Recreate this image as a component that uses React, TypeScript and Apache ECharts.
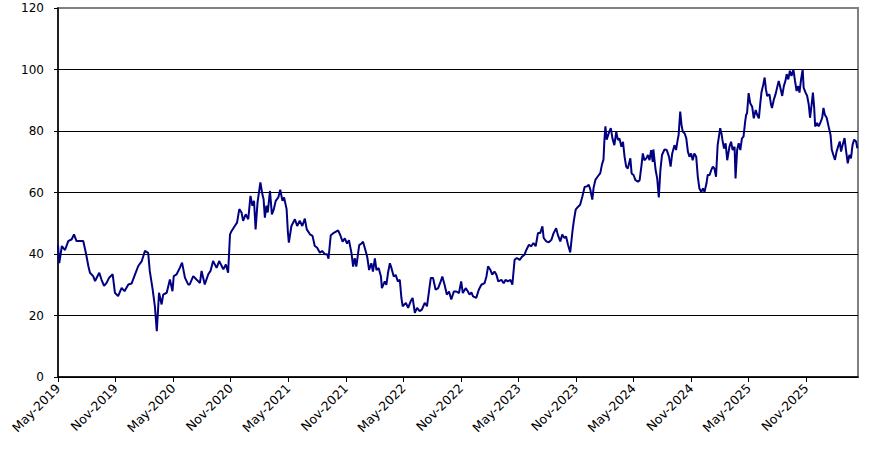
import React, { useEffect, useRef } from "react";
import * as echarts from "echarts";

const dates: string[] = [
  "2019-05-01","2019-05-05","2019-05-13","2019-05-23","2019-06-03","2019-06-14","2019-06-21","2019-06-29",
  "2019-07-10","2019-07-20","2019-07-29","2019-08-06","2019-08-11","2019-08-21","2019-08-27","2019-09-10",
  "2019-09-17","2019-09-25","2019-10-03","2019-10-11","2019-10-22","2019-10-29","2019-11-09","2019-11-20",
  "2019-11-29","2019-12-11","2019-12-21",
  "2020-01-02","2020-01-12","2020-01-23","2020-02-03","2020-02-13","2020-02-18","2020-02-27","2020-03-04",
  "2020-03-10","2020-03-17","2020-03-25","2020-03-30","2020-04-11","2020-04-21","2020-04-29","2020-05-03",
  "2020-05-12","2020-05-22","2020-05-29","2020-06-08","2020-06-18","2020-06-23","2020-07-04","2020-07-14",
  "2020-07-25","2020-07-30","2020-08-10","2020-08-21","2020-08-28","2020-09-06","2020-09-17","2020-09-25",
  "2020-10-03","2020-10-08","2020-10-16","2020-10-23","2020-10-29","2020-11-04","2020-11-14","2020-11-21",
  "2020-11-28","2020-12-05","2020-12-10","2020-12-18","2020-12-26",
  "2021-01-03","2021-01-09","2021-01-14","2021-01-19","2021-01-25","2021-02-04","2021-02-10","2021-02-14",
  "2021-02-18","2021-02-23","2021-02-27","2021-03-04","2021-03-10","2021-03-16","2021-03-22","2021-03-30",
  "2021-04-06","2021-04-13","2021-04-18","2021-04-26","2021-04-30","2021-05-03","2021-05-11","2021-05-22",
  "2021-05-29","2021-06-07","2021-06-15","2021-06-23","2021-06-29","2021-07-09","2021-07-17","2021-07-24",
  "2021-08-01","2021-08-10","2021-08-17","2021-08-26","2021-09-03","2021-09-07","2021-09-14","2021-09-21",
  "2021-09-29","2021-10-07","2021-10-14","2021-10-21","2021-10-28","2021-11-05","2021-11-11","2021-11-19",
  "2021-11-24","2021-11-29","2021-12-04","2021-12-13","2021-12-20","2021-12-25",
  "2022-01-01","2022-01-08","2022-01-14","2022-01-21","2022-01-26","2022-02-02","2022-02-07","2022-02-14",
  "2022-02-21","2022-02-24","2022-03-03","2022-03-08","2022-03-13","2022-03-19","2022-03-24","2022-04-01",
  "2022-04-07","2022-04-14","2022-04-20","2022-04-25","2022-04-29","2022-05-09","2022-05-16","2022-05-24",
  "2022-05-30","2022-06-07","2022-06-14","2022-06-22","2022-06-29","2022-07-08","2022-07-15","2022-07-22",
  "2022-07-27","2022-08-04","2022-08-12","2022-08-20","2022-08-28","2022-09-03","2022-09-10","2022-09-17",
  "2022-09-24","2022-10-01","2022-10-09","2022-10-17","2022-10-25","2022-11-02","2022-11-07","2022-11-16",
  "2022-11-23","2022-11-28","2022-12-04","2022-12-09","2022-12-19","2022-12-27",
  "2023-01-05","2023-01-15","2023-01-21","2023-01-26","2023-02-03","2023-02-09","2023-02-16","2023-02-22",
  "2023-02-28","2023-03-08","2023-03-15","2023-03-21","2023-03-28","2023-04-06","2023-04-12","2023-04-19",
  "2023-04-26","2023-05-05","2023-05-13","2023-05-20","2023-05-26","2023-06-04","2023-06-11","2023-06-18",
  "2023-06-25","2023-07-02","2023-07-09","2023-07-16","2023-07-20","2023-07-28","2023-08-06","2023-08-14",
  "2023-08-21","2023-08-29","2023-09-04","2023-09-12","2023-09-18","2023-09-25","2023-09-30","2023-10-06",
  "2023-10-13","2023-10-20","2023-10-24","2023-10-30","2023-11-07","2023-11-14","2023-11-21","2023-11-28",
  "2023-12-05","2023-12-11","2023-12-16","2023-12-22","2023-12-26",
  "2024-01-02","2024-01-09","2024-01-17","2024-01-22","2024-01-27","2024-01-30","2024-02-03","2024-02-07",
  "2024-02-15","2024-02-20","2024-02-25","2024-03-01","2024-03-07","2024-03-12","2024-03-17","2024-03-23",
  "2024-03-28","2024-04-03","2024-04-08","2024-04-13","2024-04-21","2024-04-25","2024-05-01","2024-05-07",
  "2024-05-15","2024-05-20","2024-05-26","2024-05-30","2024-06-05","2024-06-11","2024-06-16","2024-06-21",
  "2024-06-26","2024-07-01","2024-07-03","2024-07-10","2024-07-15","2024-07-20","2024-07-25","2024-07-30",
  "2024-08-08","2024-08-15","2024-08-22","2024-08-27","2024-09-02","2024-09-09","2024-09-14","2024-09-19",
  "2024-09-22","2024-09-27","2024-10-01","2024-10-05","2024-10-11","2024-10-16","2024-10-21","2024-10-26",
  "2024-11-01","2024-11-06","2024-11-11","2024-11-17","2024-11-22","2024-11-27","2024-12-03","2024-12-08",
  "2024-12-13","2024-12-19","2024-12-23","2024-12-29",
  "2025-01-04","2025-01-09","2025-01-14","2025-01-19","2025-01-24","2025-02-02","2025-02-06","2025-02-09",
  "2025-02-14","2025-02-19","2025-02-24","2025-03-01","2025-03-06","2025-03-11","2025-03-17","2025-03-20",
  "2025-03-25","2025-03-30","2025-04-05","2025-04-10","2025-04-15","2025-04-20","2025-04-23","2025-04-26",
  "2025-05-01","2025-05-06","2025-05-12","2025-05-17","2025-05-23","2025-05-28","2025-06-03","2025-06-07",
  "2025-06-11","2025-06-17","2025-06-21","2025-06-25","2025-06-29","2025-07-06","2025-07-11","2025-07-14",
  "2025-07-20","2025-07-25","2025-07-30","2025-08-05","2025-08-09","2025-08-16","2025-08-21","2025-08-26",
  "2025-08-30","2025-09-05","2025-09-10","2025-09-15","2025-09-21","2025-09-26","2025-10-01","2025-10-06",
  "2025-10-10","2025-10-15","2025-10-20","2025-10-23","2025-10-29","2025-11-04","2025-11-09","2025-11-13",
  "2025-11-18","2025-11-22","2025-11-26","2025-11-29","2025-12-05","2025-12-10","2025-12-15","2025-12-21",
  "2025-12-25","2025-12-29",
  "2026-01-05","2026-01-11","2026-01-17","2026-01-21","2026-01-26","2026-02-01","2026-02-06","2026-02-11",
  "2026-02-16","2026-02-20","2026-02-25","2026-03-01","2026-03-06","2026-03-11","2026-03-16","2026-03-21",
  "2026-03-26","2026-04-01","2026-04-07","2026-04-11",
];

const values: number[] = [
  43,37,42.6,41.3,44.2,44.8,46.4,44.2,
  44.2,44.2,39.9,36,33.9,32.8,31.2,33.9,
  31.7,29.6,30.6,32.3,33.4,27.4,26.3,29.0,
  27.9,30.1,30.4,
  33.4,36.1,37.7,41.0,40.4,34.5,28.5,23.0,
  14.9,27.4,23.6,26.8,27.4,31.7,27.9,32.8,
  33.4,35.5,37.2,32.3,30.1,30.1,32.8,31.7,
  30.6,34.5,30.1,33.4,34.5,37.7,35.5,37.7,
  36.1,35.0,36.6,33.9,46.4,47.5,49.1,50.2,
  54.6,53.5,50.8,52.9,51.3,
  58.9,55.7,57.3,48.0,56.7,63.3,59.5,57.8,
  51.8,55.7,53.5,60.5,52.9,54.6,57.3,58.4,
  60.9,57.3,58.4,54.6,47.0,43.7,49.1,51.3,
  49.1,50.8,49.1,51.5,48.0,46.4,45.9,42.6,
  42.1,40.4,41.0,39.9,39.9,38.5,46.1,46.7,
  47.2,47.7,46.1,44.0,45.1,43.4,44.5,40.2,
  35.9,38.6,35.9,42.9,43.4,44.0,
  41.8,39.1,34.8,37.0,34.3,38.6,34.8,35.4,
  32.7,28.9,31.1,30.0,33.8,37.0,35.4,32.7,
  33.2,31.1,31.6,25.7,23.0,24.1,22.5,24.6,
  25.7,20.9,22.5,21.4,21.9,24.1,23.0,28.4,
  32.2,32.2,28.4,28.9,31.1,32.7,30.0,26.8,
  27.8,25.2,27.8,27.8,27.3,31.1,27.3,28.9,
  27.8,26.8,27.5,26.2,25.7,28.4,
  30.0,30.5,32.7,36.0,34.9,33.3,34.3,33.3,
  31.1,31.6,30.5,31.6,31.1,31.6,30.0,38.1,
  38.7,38.1,39.2,39.8,41.4,43.0,42.5,43.6,
  42.5,46.8,46.8,49.0,45.2,44.1,43.8,44.6,
  46.8,48.4,46.3,44.1,46.3,45.2,45.7,43.0,
  40.5,47.4,50.6,54.4,55.3,56.0,58.7,61.8,
  62.0,62.5,60.9,57.7,61.5,
  64.2,65.2,66.3,69.0,70.7,77.2,81.5,77.2,
  79.8,80.9,77.6,75.4,79.8,77.1,77.6,74.9,
  76.5,71.6,68.4,67.8,71.1,66.2,65.7,64.0,
  63.5,64.0,68.9,72.7,70.5,71.1,72.2,70.5,
  73.8,70.0,74.0,67.3,64.6,58.4,67.3,72.2,
  74.0,73.8,71.6,68.4,72.7,75.4,73.8,77.1,
  78.7,86.3,82.0,79.8,79.2,77.6,73.3,71.6,
  72.7,70.5,72.7,71.6,65.1,61.3,60.2,61.3,
  60.2,62.9,65.7,65.7,
  67.3,68.4,67.8,65.1,75.4,80.9,79.2,77.1,
  74.3,76.0,70.5,74.9,76.5,73.8,74.9,64.6,
  73.8,76.0,73.8,77.6,78.2,83.0,85.2,85.8,
  92.3,89.0,87.9,84.1,86.8,85.2,84.1,88.6,
  92.5,95.2,97.4,93.6,91.4,91.9,88.6,87.5,
  90.3,91.9,94.1,96.3,94.6,91.4,94.6,96.3,
  98.5,96.8,99.6,97.9,100,96.3,93.0,94.6,
  92.5,96.8,100,94.1,92.5,91.4,88.6,84.3,
  88.6,92.5,87.5,81.5,82.6,81.5,82.6,84.3,
  87.5,85.4,
  84.3,81.5,78.8,73.9,72.2,70.6,73.3,75.0,
  76.6,73.3,75.5,77.7,73.3,69.5,72.2,71.1,
  75.5,77.2,76.6,74.4,
];

const monthNames = ["Jan","Feb","Mar","Apr","May","Jun","Jul","Aug","Sep","Oct","Nov","Dec"];
const xTickMonths = [0, 6, 12, 18, 24, 30, 36, 42, 48, 54, 60, 66, 72, 78];
const yTicks = [0, 20, 40, 60, 80, 100, 120];

// months elapsed since 1 May 2019
function toMonths(d: string): number {
  const [y, m, day] = d.split("-").map(Number);
  return (y - 2019) * 12 + (m - 5) + (day - 1) / 30;
}

function monthLabel(v: number): string {
  const abs = 4 + Math.round(v);
  const year = 2019 + Math.floor(abs / 12);
  return monthNames[abs % 12] + "-" + year;
}

export default function App() {
  const ref = useRef<HTMLDivElement>(null);
  useEffect(() => {
    document.body.style.margin = "0";
    if (!ref.current) return;
    const chart = echarts.init(ref.current, undefined, { renderer: "svg" });
    const seriesData = dates.map((d, i) => [toMonths(d), values[i]]);
    const font = "DejaVu Sans";
    chart.setOption({
      animation: false,
      backgroundColor: "#ffffff",
      grid: {
        left: 58,
        right: 25,
        top: 8,
        bottom: 72,
        show: true,
        borderColor: "#808080",
        borderWidth: 2,
        backgroundColor: "transparent",
      },
      xAxis: {
        type: "value",
        min: 0,
        max: 83.4,
        interval: 6,
        axisLine: { show: true, onZero: false, lineStyle: { color: "#000", width: 1.5 } },
        axisTick: { show: true, length: 5, inside: false, customValues: xTickMonths, lineStyle: { color: "#000", width: 1 } },
        axisLabel: {
          customValues: xTickMonths,
          rotate: 45,
          margin: 9,
          color: "#000",
          fontFamily: font,
          fontSize: 12.5,
          formatter: (v: number) => (xTickMonths.some((t) => Math.abs(t - v) < 1e-6) ? monthLabel(v) : ""),
        },
        splitLine: { show: false },
      },
      yAxis: {
        type: "value",
        min: 0,
        max: 120,
        interval: 20,
        axisLine: { show: true, lineStyle: { color: "#000", width: 1.5 } },
        axisTick: { show: true, length: 4, inside: false, lineStyle: { color: "#000", width: 1 } },
        axisLabel: {
          margin: 14,
          color: "#000",
          fontFamily: font,
          fontSize: 12,
          formatter: (v: number) => (yTicks.includes(v) ? String(v) : ""),
        },
        splitLine: { show: true, showMaxLine: false, lineStyle: { color: "#000", width: 1 } },
      },
      series: [
        {
          type: "line",
          data: seriesData,
          showSymbol: false,
          symbol: "none",
          lineStyle: { color: "#000080", width: 2 },
          itemStyle: { color: "#000080" },
          z: 3,
        },
      ],
    });
    return () => chart.dispose();
  }, []);
  return <div ref={ref} style={{ width: 883, height: 449 }} />;
}
